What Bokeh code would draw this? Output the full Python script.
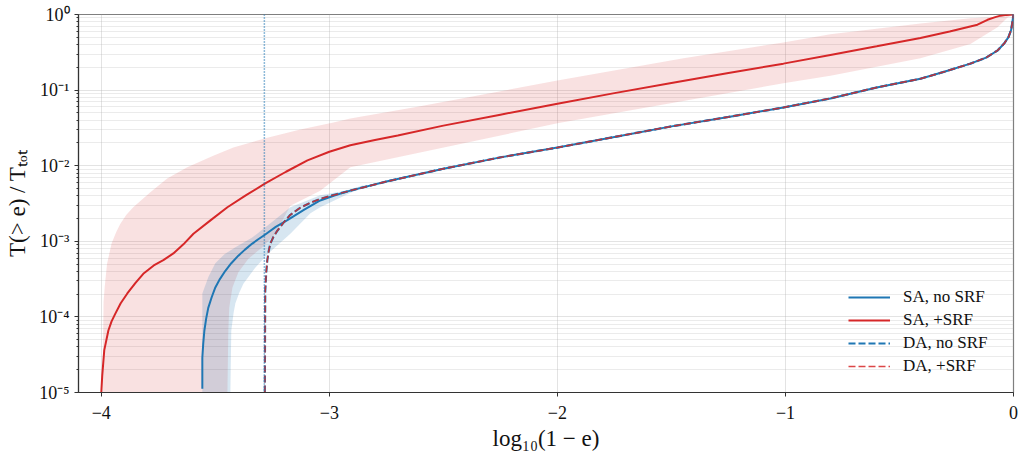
from bokeh.plotting import figure
from bokeh.models import (Range1d, Span, Legend, LegendItem, FixedTicker,
                          CustomJSTickFormatter)
from bokeh.embed import file_html
from bokeh.resources import INLINE

# ---------------- data (x = log10(1-e), y = log10 T(>e)/Ttot) ----------------
x_ticks = [-4, -3, -2, -1, 0]
y_ticks = [1e-5, 1e-4, 1e-3, 1e-2, 1e-1, 1.0]
da_threshold = -3.285

sa_srf_x = [-4.0, -3.996, -3.987, -3.969, -3.955, -3.939, -3.915, -3.886, -3.850,
            -3.816, -3.770, -3.728, -3.684, -3.640, -3.596, -3.520, -3.447, -3.365,
            -3.281, -3.190, -3.096, -3.0, -2.908, -2.8, -2.7, -2.5, -2.25, -2.0,
            -1.75, -1.5, -1.25, -1.009, -0.803, -0.6, -0.408, -0.28, -0.158,
            -0.114, -0.08, -0.057, -0.03, 0.0]
sa_srf_log = [-5.0, -4.78, -4.44, -4.18, -4.06, -3.96, -3.82, -3.69, -3.55,
              -3.43, -3.32, -3.25, -3.16, -3.04, -2.90, -2.72, -2.55, -2.39,
              -2.235, -2.08, -1.93, -1.815, -1.73, -1.66, -1.60, -1.47, -1.325, -1.18,
              -1.04, -0.905, -0.775, -0.65, -0.535, -0.42, -0.31, -0.225, -0.135,
              -0.07, -0.035, -0.015, -0.005, 0.0]

sa_nosrf_x = [-3.557, -3.557, -3.553, -3.548, -3.540, -3.531, -3.516, -3.5, -3.480,
              -3.456, -3.430, -3.399, -3.370, -3.338, -3.310, -3.281, -3.235,
              -3.184, -3.110, -3.04, -2.975, -2.908, -2.75, -2.5, -2.25, -2.0,
              -1.75, -1.5, -1.25, -1.009, -0.803, -0.6, -0.408, -0.3, -0.189,
              -0.12, -0.07, -0.04, -0.022, -0.01, -0.004, 0.0]
sa_nosrf_log = [-4.95, -4.54, -4.35, -4.18, -4.02, -3.88, -3.74, -3.61, -3.50,
                -3.39, -3.29, -3.19, -3.11, -3.03, -2.97, -2.91, -2.81,
                -2.72, -2.58, -2.46, -2.39, -2.33, -2.21, -2.04, -1.89, -1.76,
                -1.62, -1.48, -1.355, -1.23, -1.11, -0.965, -0.85, -0.754, -0.65,
                -0.57, -0.476, -0.38, -0.30, -0.20, -0.08, 0.0]

da_x = [-3.283, -3.282, -3.281, -3.277, -3.272, -3.266, -3.259, -3.245, -3.228,
        -3.200, -3.171, -3.130, -3.083, -3.040, -2.996, -2.908, -2.75, -2.5,
        -2.25, -2.0, -1.75, -1.5, -1.25, -1.009, -0.803, -0.6, -0.408, -0.3,
        -0.189, -0.12, -0.07, -0.04, -0.022, -0.01, -0.004, 0.0]
da_log = [-5.0, -4.18, -3.65, -3.42, -3.25, -3.13, -3.03, -2.94, -2.86,
          -2.75, -2.65, -2.56, -2.49, -2.44, -2.40, -2.33, -2.21, -2.04,
          -1.89, -1.76, -1.62, -1.48, -1.355, -1.23, -1.11, -0.965, -0.85, -0.754,
          -0.65, -0.57, -0.476, -0.38, -0.30, -0.20, -0.08, 0.0]

# SA +SRF spread band
srf_hi_x = [-3.995, -3.990, -3.985, -3.975, -3.955, -3.935, -3.917, -3.890, -3.860,
            -3.785, -3.711, -3.623, -3.509, -3.421, -3.272, -3.127, -2.982, -2.908,
            -2.614, -2.0, -1.447, -1.009, -0.803, -0.408, -0.189, -0.057, 0.0]
srf_hi_log = [-5.0, -3.8, -3.6, -3.3, -3.03, -2.88, -2.77, -2.65, -2.55,
              -2.35, -2.17, -2.02, -1.87, -1.76, -1.63, -1.52, -1.43, -1.376,
              -1.22, -0.873, -0.58, -0.37, -0.26, -0.12, -0.05, -0.03, -0.01]
srf_lo_x = [-3.447, -3.443, -3.439, -3.425, -3.399, -3.355, -3.294, -3.237, -3.171,
            -3.04, -2.908, -2.0, -1.009, -0.803, -0.408, -0.189, -0.07, -0.026, 0.0]
srf_lo_log = [-5.0, -4.18, -3.88, -3.61, -3.41, -3.23, -3.08, -2.9, -2.53,
              -2.33, -2.02, -1.44, -0.91, -0.81, -0.58, -0.39, -0.17, -0.04, 0.0]

# SA no SRF spread band
nosrf_hi_x = [-3.557, -3.557, -3.530, -3.500, -3.460, -3.412, -3.338, -3.250,
              -3.171, -3.04, -2.93, -2.85]
nosrf_hi_log = [-5.0, -3.69, -3.47, -3.29, -3.17, -3.08, -2.95, -2.74,
                -2.55, -2.39, -2.33, -2.26]
nosrf_lo_x = [-3.434, -3.43, -3.420, -3.412, -3.395, -3.377, -3.325, -3.268,
              -3.171, -3.083, -3.04, -2.93, -2.85]
nosrf_lo_log = [-5.0, -4.18, -3.95, -3.82, -3.68, -3.56, -3.35, -3.16,
                -2.90, -2.63, -2.55, -2.39, -2.28]

BLUE = "#1f77b4"
RED = "#d62728"
FONT = "Liberation Serif"


def pw(logs):
    return [10.0 ** v for v in logs]


p = figure(frame_width=935, frame_height=378, y_axis_type="log",
           x_range=Range1d(-4.1, 0.0), y_range=Range1d(1e-5, 1.0),
           output_backend="svg", toolbar_location=None,
           min_border_left=78, min_border_top=14, min_border_right=10,
           min_border_bottom=54)
p.background_fill_color = "white"
p.outline_line_color = "#7f7f7f"
p.outline_line_width = 1.2

# bands
p.patch(srf_hi_x + srf_lo_x[::-1], pw(srf_hi_log + srf_lo_log[::-1]),
        fill_color=RED, fill_alpha=0.14, line_alpha=0)
p.patch(nosrf_hi_x + nosrf_lo_x[::-1], pw(nosrf_hi_log + nosrf_lo_log[::-1]),
        fill_color=BLUE, fill_alpha=0.18, line_alpha=0)

span = Span(location=da_threshold, dimension="height", line_color=BLUE,
            line_dash="1 2", line_width=1.5, level="glyph")
p.add_layout(span)

r_sa_nosrf = p.line(sa_nosrf_x, pw(sa_nosrf_log), line_color=BLUE, line_width=2)
r_sa_srf = p.line(sa_srf_x, pw(sa_srf_log), line_color=RED, line_width=2)
r_da_nosrf = p.line(da_x, pw(da_log), line_color=BLUE, line_width=2.2,
                    line_dash="7 3")
r_da_srf = p.line(da_x, pw(da_log), line_color=RED, line_width=1.5,
                  line_dash="7 3", line_alpha=0.85)

# axes
p.xaxis.ticker = FixedTicker(ticks=x_ticks)
p.xaxis.formatter = CustomJSTickFormatter(
    code="return String(tick).replace('-', '\u2212');")
minor = [m * 10.0 ** k for k in range(-5, 0) for m in range(2, 10)]
p.yaxis.ticker = FixedTicker(ticks=y_ticks, minor_ticks=minor)
p.yaxis.formatter = CustomJSTickFormatter(code="""
const sup = {"-": "\u207b", "0": "\u2070", "1": "\u00b9", "2": "\u00b2", "3": "\u00b3",
             "4": "\u2074", "5": "\u2075", "6": "\u2076", "7": "\u2077", "8": "\u2078",
             "9": "\u2079"};
const e = Math.round(Math.log10(tick));
return "10" + String(e).split("").map(c => sup[c]).join("");
""")

for ax in (p.xaxis, p.yaxis):
    ax.axis_line_color = "#333333"
    ax.axis_line_width = 1.2
    ax.major_tick_line_color = "#333333"
    ax.major_tick_in = 0
    ax.major_tick_out = 4
    ax.minor_tick_in = 0
    ax.minor_tick_out = 2
    ax.minor_tick_line_color = "#333333"
    ax.major_label_text_font = FONT
    ax.major_label_text_font_size = "18px"
    ax.major_label_text_color = "#111111"
    ax.axis_label_text_font = FONT
    ax.axis_label_text_font_size = "23px"
    ax.axis_label_text_font_style = "normal"
    ax.axis_label_text_color = "#111111"
p.xaxis.minor_tick_line_color = None
p.xaxis.major_label_standoff = 9
p.yaxis.major_label_standoff = 5
p.xaxis.axis_label = "log\u2081\u2080(1 \u2212 e)"
p.yaxis.axis_label = "T(> e) / T\u209c\u2092\u209c"
p.xaxis.axis_label_standoff = 4
p.yaxis.axis_label_standoff = 6

# grid
p.xgrid.grid_line_color = "#b0b0b0"
p.xgrid.grid_line_alpha = 0.35
p.ygrid.grid_line_color = "#b0b0b0"
p.ygrid.grid_line_alpha = 0.35
p.ygrid.minor_grid_line_color = "#b0b0b0"
p.ygrid.minor_grid_line_alpha = 0.25

legend = Legend(items=[
    LegendItem(label="SA, no SRF", renderers=[r_sa_nosrf]),
    LegendItem(label="SA, +SRF", renderers=[r_sa_srf]),
    LegendItem(label="DA, no SRF", renderers=[r_da_nosrf]),
    LegendItem(label="DA, +SRF", renderers=[r_da_srf]),
], location=(765, 11))
legend.background_fill_alpha = 0
legend.border_line_alpha = 0
legend.padding = 5
legend.margin = 0
legend.spacing = 3
legend.glyph_width = 42
legend.glyph_height = 20
legend.label_height = 20
legend.label_standoff = 13
legend.label_text_font = FONT
legend.label_text_font_size = "17px"
legend.label_text_color = "#111111"
p.add_layout(legend, "center")

open("out.html", "w").write(file_html(p, INLINE))
